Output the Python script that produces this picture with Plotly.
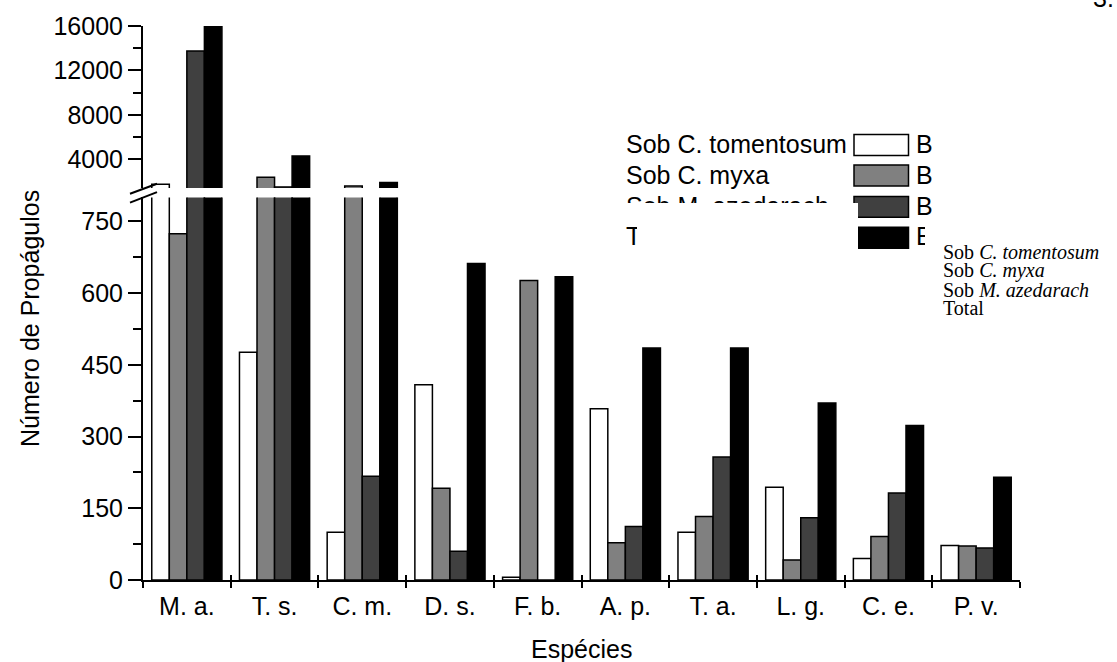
import plotly.graph_objects as go

# Species (x categories) and propagule counts per source tree
especies = ["M. a.", "T. s.", "C. m.", "D. s.", "F. b.", "A. p.", "T. a.", "L. g.", "C. e.", "P. v."]
sob_tomentosum = [1750, 476, 100, 408, 6, 358, 100, 194, 45, 72]
sob_myxa = [724, 2370, 1600, 192, 626, 78, 133, 42, 91, 71]
sob_azedarach = [13750, 1510, 217, 60, 0, 112, 257, 130, 182, 67]
total = [16000, 4300, 1900, 662, 634, 485, 485, 370, 323, 215]

series_names = ["Sob C. tomentosum", "Sob C. myxa", "Sob M. azedarach", "Total"]
series_values = [sob_tomentosum, sob_myxa, sob_azedarach, total]
fills = ["#ffffff", "#808080", "#404040", "#000000"]

# Broken y axis: lower and upper segments
lower_ticks = [0, 150, 300, 450, 600, 750]
lower_minor = [75, 225, 375, 525, 675]
upper_ticks = [4000, 8000, 12000, 16000]
upper_minor = [6000, 10000, 14000]

FONT = "Liberation Sans, Arial, sans-serif"
SERIF = "Liberation Serif, Times New Roman, serif"
FS = 25

# page geometry (pixels) used for decorations
W, H = 1117, 662
L, R, T, B = 143, 97, 24, 82
PW, PH = W - L - R, H - T - B


def px(x):
    return (x - L) / PW


def py(y):
    return (H - B - y) / PH


fig = go.Figure()
for name, vals, col in zip(series_names, series_values, fills):
    for ax in ("y", "y2"):
        fig.add_trace(go.Bar(
            x=especies, y=vals, name=name, yaxis=ax, offsetgroup=name,
            marker=dict(color=col, line=dict(color="black", width=1.5)),
            showlegend=False, hoverinfo="x+y",
        ))

# empty trace so the inner-tick overlay axis is drawn
fig.add_trace(go.Scatter(x=[], y=[], xaxis="x2", showlegend=False))

axis_common = dict(
    showline=True, linecolor="black", linewidth=2, showgrid=False, zeroline=False,
    ticks="outside", ticklen=13, tickwidth=2, tickcolor="black", tickformat="d",
    tickfont=dict(family=FONT, size=FS, color="black"),
)

lower_dom_top = py(196)
upper_dom_bot = py(186.7)

fig.update_layout(
    width=W, height=H,
    margin=dict(l=L, r=R, t=T, b=B, pad=0),
    paper_bgcolor="white", plot_bgcolor="white",
    barmode="group", bargap=0.2, bargroupgap=0,
    font=dict(family=FONT, size=FS, color="black"),
    xaxis=dict(
        type="category", categoryarray=especies, range=[-0.5, 9.5],
        showline=True, linecolor="black", linewidth=2, showgrid=False,
        tickson="boundaries", ticks="outside", ticklen=6, tickwidth=2, tickcolor="black",
        ticklabelstandoff=3,
        tickfont=dict(family=FONT, size=FS, color="black"),
        anchor="y",
    ),
    xaxis2=dict(
        overlaying="x", anchor="y", range=[-0.5, 9.5],
        tickvals=[i - 0.5 for i in range(len(especies) + 1)],
        ticks="inside", ticklen=5, tickwidth=2, tickcolor="black",
        showticklabels=False, showgrid=False, zeroline=False, showline=False,
    ),
    yaxis=dict(
        domain=[0, lower_dom_top], range=[0, 800],
        tickvals=lower_ticks,
        minor=dict(tickvals=lower_minor, ticks="outside", ticklen=8, tickwidth=2, tickcolor="black"),
        anchor="x", **axis_common,
    ),
    yaxis2=dict(
        domain=[upper_dom_bot, 1], range=[1400, 16000],
        tickvals=upper_ticks,
        minor=dict(tickvals=upper_minor, ticks="outside", ticklen=8, tickwidth=2, tickcolor="black"),
        anchor="x", **axis_common,
    ),
)

shapes = []
# axis break marks
for (x0, y0, x1, y1) in [(130, 192.3, 157, 182.3), (130, 201.3, 157, 190.7)]:
    shapes.append(dict(type="line", xref="paper", yref="paper",
                       x0=px(x0), y0=py(y0), x1=px(x1), y1=py(y1),
                       line=dict(color="black", width=2)))

# legend swatches
legend_rows = [143.5, 174, 205.5, 236.5]
for yc, col in zip(legend_rows, fills):
    shapes.append(dict(type="rect", xref="paper", yref="paper",
                       x0=px(854), x1=px(908.5), y0=py(yc - 10.5), y1=py(yc + 10.5),
                       fillcolor=col, line=dict(color="black", width=1.5), layer="above"))
fig.update_layout(shapes=shapes)

ann = []
# legend labels
for yc, name in zip([142.5, 173.5, 204.5, 235], series_names):
    ann.append(dict(text=name, x=px(624), y=py(yc), xref="paper", yref="paper",
                    xanchor="left", yanchor="middle", showarrow=False,
                    font=dict(family=FONT, size=FS, color="black")))
    ann.append(dict(text="B", x=px(914), y=py(yc), xref="paper", yref="paper",
                    xanchor="left", yanchor="middle", showarrow=False,
                    font=dict(family=FONT, size=FS, color="black")))


def cover(x0, x1, y0, y1):
    return dict(text=" ", x=px(x0), y=py(y0), xref="paper", yref="paper",
                xanchor="left", yanchor="top", showarrow=False,
                width=x1 - x0, height=y1 - y0, bgcolor="white",
                borderpad=0, borderwidth=0)


ann.append(cover(612, 858, 202, 224))
ann.append(cover(637, 858, 222, 258))
ann.append(cover(925, 1117, 222, 330))

# serif legend text block
serif_lines = ["Sob <i>C. tomentosum</i>", "Sob <i>C. myxa</i>", "Sob <i>M. azedarach</i>", "Total"]
for yc, txt in zip([251, 269.8, 288.6, 307.4], serif_lines):
    ann.append(dict(text=txt, x=px(941), y=py(yc), xref="paper", yref="paper",
                    xanchor="left", yanchor="middle", showarrow=False,
                    font=dict(family=SERIF, size=20, color="black")))

# axis titles
ann.append(dict(text="Número de Propágulos", x=px(30), y=py(318), xref="paper", yref="paper",
                textangle=-90, showarrow=False, xanchor="center", yanchor="middle",
                font=dict(family=FONT, size=FS, color="black")))
ann.append(dict(text="Espécies", x=0.5, y=py(649), xref="paper", yref="paper",
                showarrow=False, xanchor="center", yanchor="middle",
                font=dict(family=FONT, size=FS, color="black")))
# page number at the top edge
ann.append(dict(text="3.", x=px(1091), y=py(-4), xref="paper", yref="paper",
                showarrow=False, xanchor="left", yanchor="middle",
                font=dict(family=FONT, size=FS, color="black")))

fig.update_layout(annotations=ann)
fig.write_html("out.html")
